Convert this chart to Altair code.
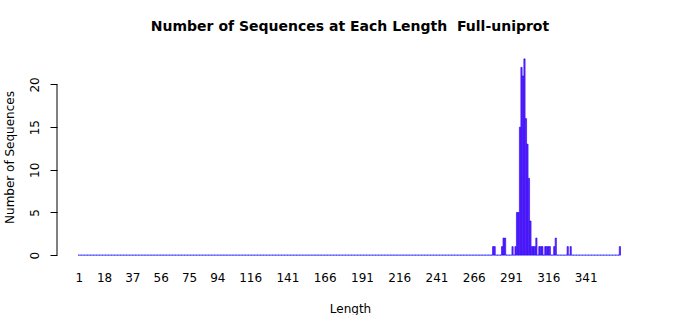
import altair as alt
import pandas as pd

title_text = "Number of Sequences at Each Length\u00a0 Full-uniprot"
x_title = "Length"
y_title = "Number of Sequences"
max_length = 364

# non-zero bins (length -> number of sequences)
lengths = [279, 280, 285, 286, 287, 292, 294, 295, 296, 297, 298, 299, 300, 301, 302,
           303, 304, 305, 306, 307, 308, 310, 311, 312, 314, 315, 316, 317, 320, 321,
           329, 331, 364]
counts = [1, 1, 1, 2, 2, 1, 1, 5, 5, 15, 22, 21, 23, 16, 13,
          9, 4, 1, 1, 1, 2, 1, 1, 1, 1, 1, 1, 1, 1, 2,
          1, 1, 1]
x_tick_labels = [1, 18, 37, 56, 75, 94, 116, 141, 166, 191, 216, 241, 266, 291, 316, 341]
y_ticks = [0, 5, 10, 15, 20]

all_lengths = list(range(1, max_length + 1))
cmap = dict(zip(lengths, counts))
df = pd.DataFrame({"Length": all_lengths, "Count": [cmap.get(v, 0) for v in all_lengths]})
half = 0.4167
df["x0"] = df["Length"] - half
df["x1"] = df["Length"] + half
df["zero"] = 0

FONT = "DejaVu Sans"
xscale = alt.Scale(domain=[-13.55, 379.5], nice=False, zero=False)
yscale = alt.Scale(domain=[-0.92, 23.92], nice=False, zero=False)

y_axis = alt.Axis(values=y_ticks, title=y_title, grid=False, domain=False,
                  ticks=True, tickSize=7, tickColor="black",
                  labelAngle=270, labelAlign="center", labelBaseline="alphabetic",
                  labelPadding=12, labelFont=FONT, labelFontSize=12,
                  labelColor="black", labelFlush=False,
                  titleFont=FONT, titleFontSize=12, titleFontWeight="normal",
                  titleColor="black", titleAngle=270, titleAlign="center",
                  titleBaseline="alphabetic", titleX=-44, titleY=106)

bars = alt.Chart(df).mark_bar(fill="#A020F0", stroke="#0000FF", strokeWidth=0.6).encode(
    x=alt.X("x0:Q", scale=xscale,
            axis=alt.Axis(values=x_tick_labels, format="d", title=x_title, grid=False,
                          domain=False, ticks=False, tickSize=0, labelPadding=9,
                          labelFont=FONT, labelFontSize=12, labelColor="black",
                          labelFlush=False, labelOverlap=False,
                          titleFont=FONT, titleFontSize=12, titleFontWeight="normal",
                          titleColor="black", titleY=49, titleBaseline="alphabetic")),
    x2="x1",
    y=alt.Y("Count:Q", scale=yscale, axis=y_axis),
    y2="zero",
)

axis_line = alt.Chart(pd.DataFrame({"y0": [y_ticks[0]], "y1": [y_ticks[-1]]})).mark_rule(
    color="black", strokeWidth=1
).encode(
    x=alt.value(0),
    y=alt.Y("y0:Q", scale=yscale, axis=y_axis, title=y_title),
    y2="y1",
)

chart = alt.layer(bars, axis_line).properties(
    width=586,
    height=212,
    autosize=alt.AutoSizeParams(type="none"),
    padding={"left": 57, "top": 51, "right": 57, "bottom": 52},
    title=alt.TitleParams(title_text, font=FONT, fontSize=14, fontWeight="bold",
                          color="black", anchor="middle", offset=17),
).configure_view(stroke=None)

chart.save("out.html", embed_options={"renderer": "svg", "actions": False})
